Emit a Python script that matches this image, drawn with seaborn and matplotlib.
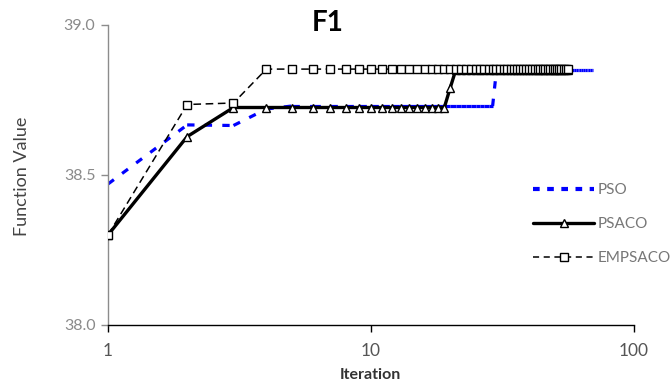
import numpy as np
import pandas as pd
import matplotlib
matplotlib.use("Agg")
import matplotlib.pyplot as plt
import seaborn as sns
from matplotlib.lines import Line2D

# ---- data ----
pso_iter = list(range(1, 71))
pso_vals = [38.47, 38.667, 38.665, 38.72] + [38.73] * 25 + [38.85] * 41

psaco_iter = list(range(1, 57))
psaco_vals = [38.30, 38.628] + [38.725] * 17 + [38.79] + [38.85] * 36

empsaco_iter = list(range(1, 57))
empsaco_vals = [38.30, 38.735, 38.74] + [38.853] * 53

series_names = ["PSO", "PSACO", "EMPSACO"]
y_ticks = [38.0, 38.5, 39.0]
y_ticklabels = ["38.0", "38.5", "39.0"]
x_ticks = [1, 10, 100]
x_ticklabels = ["1", "10", "100"]

# ---- style ----
sns.set_theme(style="white")
plt.rcParams["font.family"] = ["Lato", "DejaVu Sans"]

fig = plt.figure(figsize=(6.72, 3.85), dpi=100)
ax = fig.add_axes([108 / 672, 1 - 325 / 385, (634 - 108) / 672, 300 / 385])

# PSO: dotted blue, drawn per segment so the dash pattern restarts like the original
pso_df = pd.DataFrame({"x": pso_iter, "y": pso_vals})
for i in range(len(pso_df) - 1):
    seg = pso_df.iloc[i:i + 2]
    sns.lineplot(data=seg, x="x", y="y", ax=ax, color="#0000FF", lw=2.3,
                 linestyle=(0, (2.3, 3.2)), dash_capstyle="butt", zorder=2)

# PSACO: thick black solid with open triangles
psaco_df = pd.DataFrame({"x": psaco_iter, "y": psaco_vals})
sns.lineplot(data=psaco_df, x="x", y="y", ax=ax, color="black", lw=2.4,
             marker="^", markersize=5.5, markerfacecolor="white",
             markeredgecolor="black", markeredgewidth=1.0, zorder=3)

# EMPSACO: thin black dashed with open squares
emp_df = pd.DataFrame({"x": empsaco_iter, "y": empsaco_vals})
sns.lineplot(data=emp_df, x="x", y="y", ax=ax, color="black", lw=1.1,
             linestyle=(0, (5, 3)), marker="s", markersize=5.5,
             markerfacecolor="white", markeredgecolor="black",
             markeredgewidth=1.0, zorder=4)

ax.set_xscale("log")
ax.set_xlim(1, 100)
ax.set_ylim(38.0, 39.0)
ax.set_xticks(x_ticks)
ax.set_xticklabels(x_ticklabels)
ax.set_yticks(y_ticks)
ax.set_yticklabels(y_ticklabels)
ax.xaxis.set_minor_locator(matplotlib.ticker.NullLocator())
ax.set_xlabel("")
ax.set_ylabel("")

for s in ["top", "right"]:
    ax.spines[s].set_visible(False)
ax.spines["left"].set_color("#8c8c8c")
ax.spines["left"].set_linewidth(1.0)
ax.spines["bottom"].set_color("black")
ax.spines["bottom"].set_linewidth(1.0)

ax.tick_params(axis="y", direction="out", length=5, width=1, color="#8c8c8c",
               labelcolor="#8a8a8a", labelsize=11.5, pad=4, left=True)
ax.tick_params(axis="x", direction="out", length=5, width=1, color="black",
               labelcolor="#555555", labelsize=12.5, pad=8, bottom=True)

# Title & axis labels
fig.text(328 / 672, 1 - 23 / 385, "F1", ha="center", va="center",
         fontsize=20, fontweight="bold", color="black")
fig.text(370 / 672, 1 - 375 / 385, "Iteration", ha="center", va="center",
         fontsize=11.5, fontweight="bold", color="#333333")
fig.text(22 / 672, 1 - 176 / 385, "Function Value", ha="center", va="center",
         rotation=90, fontsize=13, color="#444444")

# Legend
handles = [
    Line2D([], [], color="#0000FF", lw=3.0, linestyle=(0, (1.6, 1.8))),
    Line2D([], [], color="black", lw=2.4, marker="^", markersize=6,
           markerfacecolor="white", markeredgecolor="black"),
    Line2D([], [], color="black", lw=1.1, linestyle=(0, (4, 3)), marker="s",
           markersize=6, markerfacecolor="white", markeredgecolor="black"),
]
leg = fig.legend(handles, series_names, loc="center left",
                 bbox_to_anchor=(533 / 672, 1 - 224 / 385), frameon=False,
                 prop={"family": "Lato", "size": 11},
                 handlelength=4.0, handletextpad=0.25,
                 labelspacing=1.3, borderpad=0, borderaxespad=0)
for t in leg.get_texts():
    t.set_color("#777777")

fig.savefig("out.png", dpi=100)
